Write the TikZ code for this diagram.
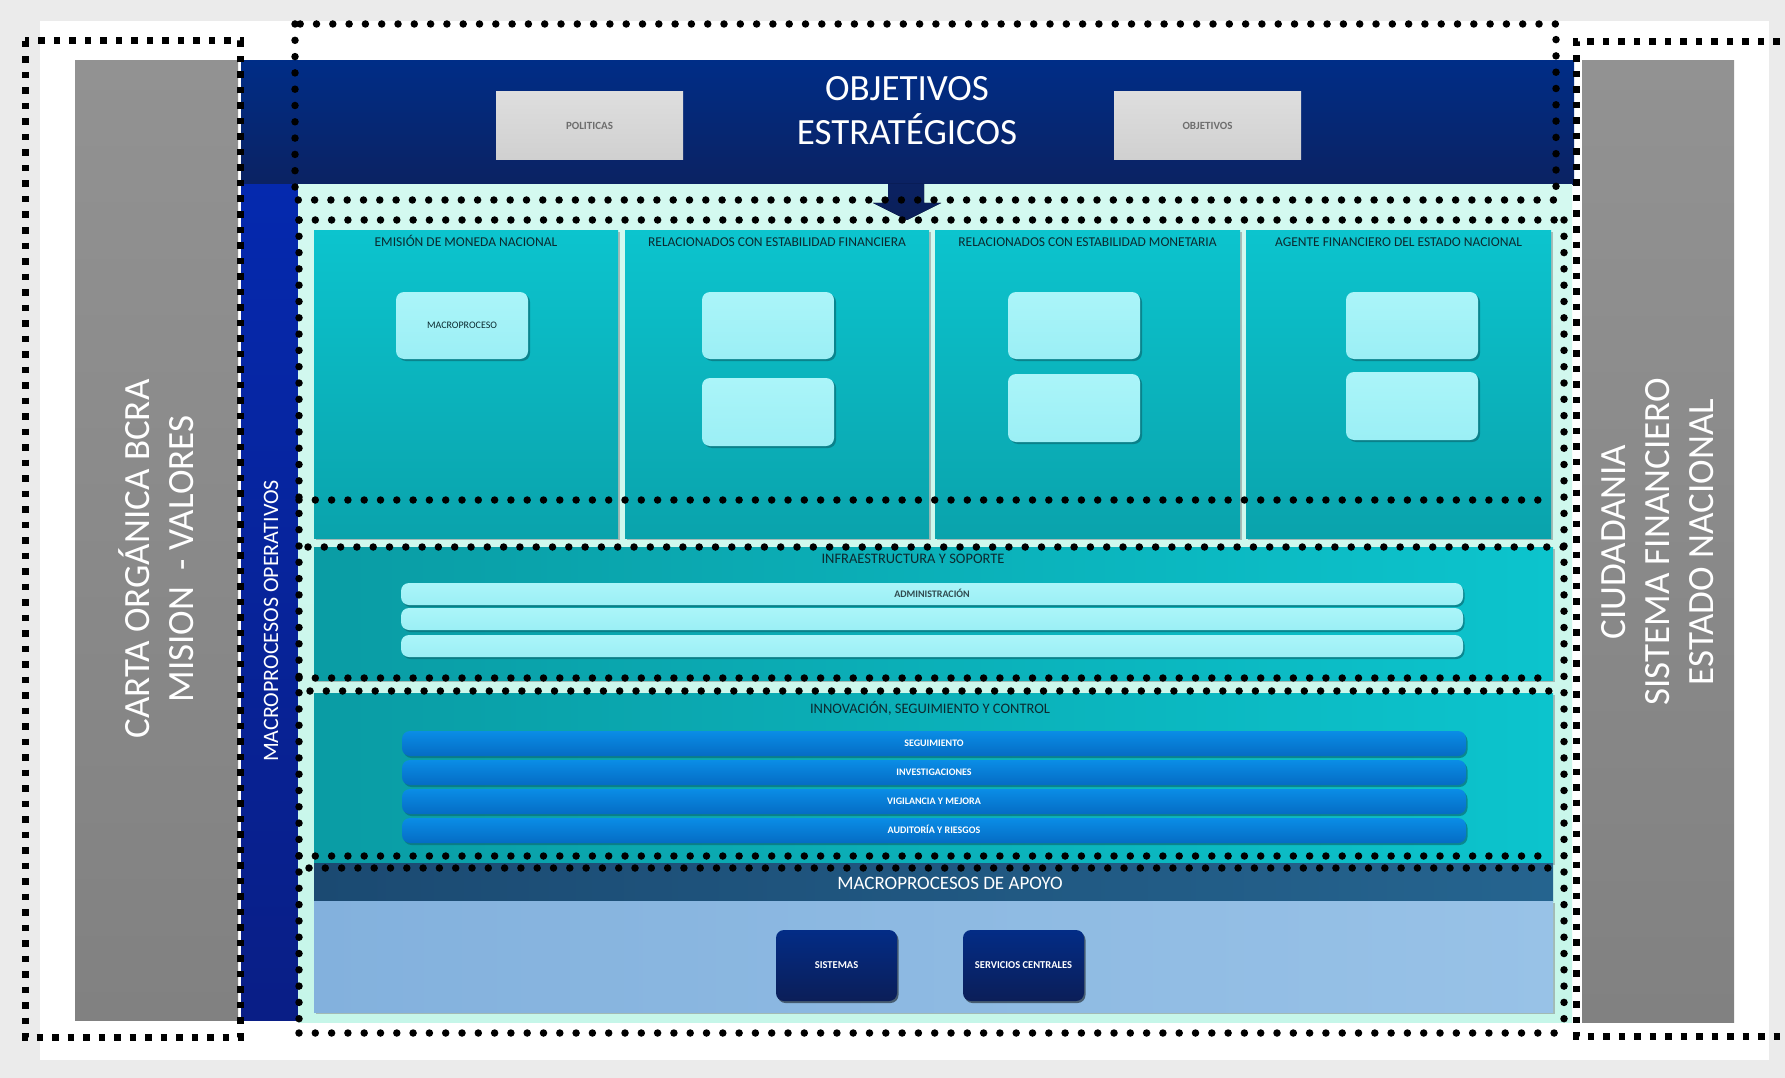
\documentclass[tikz,border=0pt]{standalone}
\usepackage{fontspec}
\setmainfont{Carlito}
\usetikzlibrary{shadows}
\definecolor{outerbg}{HTML}{EBEBEB}
\definecolor{gpTop}{HTML}{929292}
\definecolor{gpBot}{HTML}{818181}
\definecolor{hdrTop}{HTML}{002D87}
\definecolor{hdrBot}{HTML}{0B2262}
\definecolor{sideTop}{HTML}{0529AE}
\definecolor{sideBot}{HTML}{091E86}
\definecolor{mintTop}{HTML}{D4F9F0}
\definecolor{mintBot}{HTML}{C6F6E9}
\definecolor{colTop}{HTML}{0CC4CE}
\definecolor{colBot}{HTML}{0AA3AC}
\definecolor{lbTop}{HTML}{ABF5F9}
\definecolor{lbBot}{HTML}{9BEFF5}
\definecolor{shTeal}{HTML}{0A6F78}
\definecolor{infL}{HTML}{0A9CA4}
\definecolor{infR}{HTML}{0CC4CD}
\definecolor{bbTop}{HTML}{0A8DE6}
\definecolor{bbBot}{HTML}{056CC4}
\definecolor{apHL}{HTML}{1B4A72}
\definecolor{apHR}{HTML}{25648F}
\definecolor{apBL}{HTML}{83B1DD}
\definecolor{apBR}{HTML}{98C2E7}
\definecolor{nvTop}{HTML}{032C86}
\definecolor{nvBot}{HTML}{0B1E58}
\definecolor{gbTop}{HTML}{DEDEDE}
\definecolor{gbBot}{HTML}{D0D0D0}
\definecolor{titleText}{HTML}{0B2A30}
\definecolor{smallGray}{HTML}{6E6E6E}
\begin{document}
\begin{tikzpicture}[x=1pt,y=-1pt,
  box/.style={anchor=north west, inner sep=0pt, outer sep=0pt, draw=none},
  capc/.style={text height=0.63em, text depth=0pt, inner sep=0pt},
  coltitle/.style={capc, text=titleText, font=\fontsize{13.5}{16}\selectfont},
  paneltitle/.style={capc, text=titleText, font=\fontsize{14.5}{17}\selectfont},
  lightbox/.style={box, rounded corners=8pt, top color=lbTop, bottom color=lbBot,
     drop shadow={shadow xshift=2pt, shadow yshift=-2pt, fill=shTeal, opacity=0.7}},
  colpanel/.style={box, top color=colTop, bottom color=colBot,
     drop shadow={shadow xshift=1.5pt, shadow yshift=-1.5pt, fill=gray, opacity=0.5}},
  widepanel/.style={box, left color=infL, right color=infR,
     drop shadow={shadow xshift=1.5pt, shadow yshift=-1.5pt, fill=gray, opacity=0.5}},
  infrabar/.style={box, rounded corners=8pt, top color=lbTop, bottom color=lbBot,
     minimum width=1062pt, minimum height=22pt, capc,
     font=\bfseries\fontsize{10}{11}\selectfont, text=titleText!85,
     drop shadow={shadow xshift=1.5pt, shadow yshift=-2pt, fill=shTeal, opacity=0.7}},
  bluebar/.style={box, rounded corners=8pt, top color=bbTop, bottom color=bbBot,
     minimum width=1064pt, minimum height=25pt, capc,
     font=\bfseries\fontsize{10}{11}\selectfont, text=white,
     drop shadow={shadow xshift=1.5pt, shadow yshift=-2pt, fill=shTeal, opacity=0.7}},
  navybox/.style={box, rounded corners=8pt, top color=nvTop, bottom color=nvBot,
     minimum width=121pt, minimum height=71pt, capc,
     font=\bfseries\fontsize{10.5}{12}\selectfont, text=white,
     drop shadow={shadow xshift=1.5pt, shadow yshift=-2pt, fill=black, opacity=0.5}},
  graybox/.style={box, top color=gbTop, bottom color=gbBot,
     minimum width=187pt, minimum height=68pt, capc,
     font=\bfseries\fontsize{11}{12}\selectfont, text=smallGray},
  rdot/.style={line width=7.5pt, line cap=round, dash pattern=on 0pt off 16.3pt, black},
  sqdot/.style={line width=7pt, dash pattern=on 6.5pt off 9pt, black}
]
\useasboundingbox (0,0) rectangle (1785,1078);
\clip (0,0) rectangle (1785,1078);
\fill[outerbg] (0,0) rectangle (1785,1078);
\fill[white] (40,21) rectangle (1769,1060);

% side grey panels
\node[box, minimum width=163pt, minimum height=959pt, top color=gpTop, bottom color=gpBot] (lp) at (75,61) {};
\node[rotate=90, text=white, align=center, font=\fontsize{37}{44}\selectfont] (lpt) at (156,559)
  {CARTA ORGÁNICA BCRA\\MISION\ \ - VALORES};
\node[box, minimum width=152pt, minimum height=961pt, top color=gpTop, bottom color=gpBot] (rp) at (1582,61) {};
\node[rotate=90, text=white, align=center, font=\fontsize{37}{44}\selectfont] (rpt) at (1658,542)
  {CIUDADANIA\\SISTEMA FINANCIERO\\ESTADO NACIONAL};

% header
\node[box, minimum width=1333pt, minimum height=124pt, top color=hdrTop, bottom color=hdrBot] (hdr) at (241,61) {};
\node[text=white, align=center, font=\fontsize{37}{44}\selectfont] (hdrt) at (907,111)
  {OBJETIVOS\\ESTRATÉGICOS};
\node[graybox] (pol) at (496,92) {POLITICAS};
\node[graybox] (obj) at (1114,92) {OBJETIVOS};

% side blue bar
\node[box, minimum width=57pt, minimum height=835pt, top color=sideTop, bottom color=sideBot] (side) at (241,185) {};
\node[rotate=90, text=white, font=\fontsize{22}{24}\selectfont] (sidet) at (271,621) {MACROPROCESOS OPERATIVOS};

% mint container
\node[box, minimum width=1274pt, minimum height=837pt, top color=mintTop, bottom color=mintBot] (mint) at (298,185) {};

% arrow from header
\fill[top color=hdrBot, bottom color=hdrBot!90!black] (888,184) -- (924,184) -- (924,203) -- (941,203) -- (907,220) -- (873,203) -- (888,203) -- cycle;

% columns
\node[colpanel, minimum width=304pt, minimum height=308pt] (c1) at (314,230) {};
\node[colpanel, minimum width=304pt, minimum height=308pt] (c2) at (625,230) {};
\node[colpanel, minimum width=305pt, minimum height=308pt] (c3) at (935,230) {};
\node[colpanel, minimum width=305pt, minimum height=308pt] (c4) at (1246,230) {};
\node[coltitle] (c1t) at (466,243) {EMISIÓN DE MONEDA NACIONAL};
\node[coltitle] (c2t) at (777,243) {RELACIONADOS CON ESTABILIDAD FINANCIERA};
\node[coltitle] (c3t) at (1087.5,243) {RELACIONADOS CON ESTABILIDAD MONETARIA};
\node[coltitle] (c4t) at (1398.5,243) {AGENTE FINANCIERO DEL ESTADO NACIONAL};

\node[lightbox, minimum width=132pt, minimum height=67pt, capc, font=\fontsize{10}{11}\selectfont, text=titleText] (m1) at (396,292) {MACROPROCESO};
\node[lightbox, minimum width=132pt, minimum height=67pt] (m2a) at (702,292) {};
\node[lightbox, minimum width=132pt, minimum height=68pt] (m2b) at (702,378) {};
\node[lightbox, minimum width=132pt, minimum height=67pt] (m3a) at (1008,292) {};
\node[lightbox, minimum width=132pt, minimum height=68pt] (m3b) at (1008,374) {};
\node[lightbox, minimum width=132pt, minimum height=67pt] (m4a) at (1346,292) {};
\node[lightbox, minimum width=132pt, minimum height=68pt] (m4b) at (1346,372) {};

% infraestructura
\node[widepanel, minimum width=1239pt, minimum height=133pt] (infra) at (314,547) {};
\node[paneltitle] (infrat) at (913,560) {INFRAESTRUCTURA Y SOPORTE};
\node[infrabar] (ib1) at (401,583) {ADMINISTRACIÓN};
\node[infrabar] (ib2) at (401,608) {};
\node[infrabar] (ib3) at (401,635) {};

% innovacion
\node[widepanel, minimum width=1239pt, minimum height=170pt] (inno) at (314,693) {};
\node[paneltitle] (innot) at (930,710) {INNOVACIÓN, SEGUIMIENTO Y CONTROL};
\node[bluebar] (bb1) at (402,731) {SEGUIMIENTO};
\node[bluebar] (bb2) at (402,760) {INVESTIGACIONES};
\node[bluebar] (bb3) at (402,789) {VIGILANCIA Y MEJORA};
\node[bluebar] (bb4) at (402,818) {AUDITORÍA Y RIESGOS};

% apoyo
\node[box, minimum width=1239pt, minimum height=38pt, left color=apHL, right color=apHR] (aph) at (314,863) {};
\node[capc, text=white, font=\fontsize{19}{21}\selectfont] (apht) at (950,886) {MACROPROCESOS DE APOYO};
\node[box, minimum width=1239pt, minimum height=111pt, left color=apBL, right color=apBR,
   drop shadow={shadow xshift=1.5pt, shadow yshift=-1.5pt, fill=gray, opacity=0.5}] (apb) at (314,901) {};
\node[navybox] (sis) at (776,930) {SISTEMAS};
\node[navybox] (serv) at (963,930) {SERVICIOS CENTRALES};

% round-dotted frames
\draw[rdot] (295,24) rectangle (1556,200);
\draw[rdot] (299,220) -- (299,1033);
\draw[rdot] (1564,220) -- (1564,1033);
\draw[rdot] (299,220) -- (1564,220);
\draw[rdot] (299,500) -- (1552,500);
\draw[rdot] (308,547) -- (1564,547);
\draw[rdot] (299,678) -- (1552,678);
\draw[rdot] (310,691) -- (1564,691);
\draw[rdot] (299,856) -- (1552,856);
\draw[rdot] (309,868) -- (1564,868);
\draw[rdot] (299,1033) -- (1564,1033);

% square-dotted frames
\draw[sqdot] (25,41) rectangle (240,1037);
\draw[sqdot] (1795,42) -- (1576,42) -- (1576,1036) -- (1795,1036);
\end{tikzpicture}
\end{document}
